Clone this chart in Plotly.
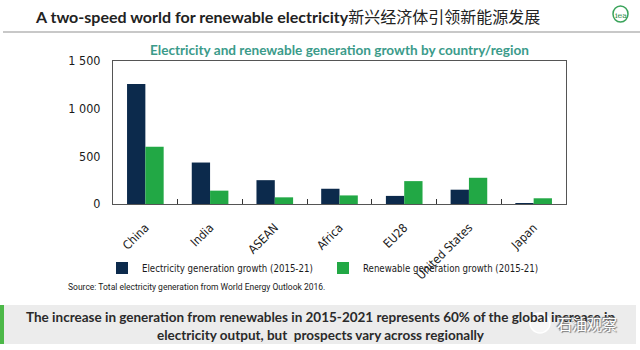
import plotly.graph_objects as go

categories = ["China", "India", "ASEAN", "Africa", "EU28", "United States", "Japan"]
electricity_growth = [1260, 435, 250, 160, 85, 150, 5]
renewable_growth = [600, 140, 70, 90, 240, 275, 60]
y_tickvals = [0, 500, 1000, 1500]
y_ticktext = ["0", "500", "1 000", "1 500"]

NAVY = "#0c2a4c"
GREEN = "#22a845"
COND = "DejaVu Sans Condensed, Roboto, sans-serif"

# plot area in pixels
L, R, T, B = 113, 566, 61, 204
W, H = 640, 350


def px(x):
    return (x - L) / (R - L)


def py(y):
    return (B - y) / (B - T)


fig = go.Figure()
fig.add_trace(go.Bar(x=categories, y=electricity_growth, name="Electricity generation growth (2015-21)",
                     marker=dict(color=NAVY, line=dict(width=0))))
fig.add_trace(go.Bar(x=categories, y=renewable_growth, name="Renewable generation growth (2015-21)",
                     marker=dict(color=GREEN, line=dict(width=0))))

fig.update_layout(
    width=W, height=H,
    margin=dict(l=L, r=W - R, t=T, b=H - B, pad=0),
    paper_bgcolor="white", plot_bgcolor="white",
    barmode="group", bargap=0.434, bargroupgap=0,
    font=dict(family=COND, color="#1a1a1a", size=12),
    showlegend=True,
    legend=dict(orientation="h", x=px(102), y=py(268), xanchor="left", yanchor="middle",
                xref="paper", yref="paper",
                font=dict(family=COND, size=9.6, color="#1a1a1a"),
                entrywidth=176, itemwidth=30, bgcolor="rgba(0,0,0,0)",
                tracegroupgap=0),
)
fig.update_xaxes(
    showline=True, linecolor="#555555", linewidth=1, mirror=True,
    ticks="inside", tickson="boundaries", ticklen=5, tickcolor="#333333",
    tickangle=-45, tickfont=dict(family=COND, size=12, color="#1a1a1a"),
    showgrid=False, ticklabelstandoff=11,
)
fig.update_yaxes(
    range=[0, 1500], tickvals=y_tickvals, ticktext=y_ticktext,
    showline=True, linecolor="#555555", linewidth=1, mirror=True,
    ticks="", showgrid=False, zeroline=False,
    tickfont=dict(family=COND, size=12.5, color="#1a1a1a"),
    ticklabelstandoff=9,
)

# title
fig.add_annotation(
    xref="paper", yref="paper", x=px(33), y=py(16), xanchor="left", yanchor="middle",
    text="<b>A two-speed world for renewable electricity</b>"
         "<span style='font-family:Noto Sans CJK SC;font-size:16px'>新兴经济体引领新能源发展</span>",
    showarrow=False, font=dict(family="Lato, Noto Sans CJK SC, sans-serif", size=16, color="#222222"),
)
# header separator line
fig.add_shape(type="line", xref="paper", yref="paper", x0=px(3), x1=px(640), y0=py(32), y1=py(32),
              line=dict(color="#c8c8c8", width=2))
# iea logo
fig.add_shape(type="circle", xref="paper", yref="paper", x0=px(613), x1=px(628), y0=py(22), y1=py(6),
              line=dict(color="#3aa35a", width=1.5), fillcolor="white")
fig.add_annotation(xref="paper", yref="paper", x=px(621), y=py(15), text="iea", showarrow=False,
                   font=dict(family="DejaVu Serif, serif", size=8, color="#2f8f4a"),
                   xanchor="center", yanchor="middle")

# chart subtitle
fig.add_annotation(
    xref="paper", yref="paper", x=px(339), y=py(50), xanchor="center", yanchor="middle",
    text="<b>Electricity and renewable generation growth by country/region</b>", showarrow=False,
    font=dict(family="Lato, sans-serif", size=13.6, color="#3b9b8a"),
)

# source
fig.add_annotation(
    xref="paper", yref="paper", x=px(66), y=py(287), xanchor="left", yanchor="middle",
    text="Source: Total electricity generation from World Energy Outlook 2016.", showarrow=False,
    font=dict(family="Roboto, sans-serif", size=8.5, color="#1a1a1a"),
)

# bottom box
fig.add_shape(type="rect", xref="paper", yref="paper", x0=px(0), x1=px(636), y0=py(344), y1=py(305),
              fillcolor="#ececec", line=dict(width=0), layer="below")
fig.add_shape(type="rect", xref="paper", yref="paper", x0=px(0), x1=px(4), y0=py(344), y1=py(305),
              fillcolor="#4cb848", line=dict(width=0))
fig.add_annotation(
    xref="paper", yref="paper", x=px(320), y=py(326), xanchor="center", yanchor="middle",
    text="<b>The increase in generation from renewables in 2015-2021 represents 60% of the global increase in</b><br>"
         "<b>electricity output, but  prospects vary across regionally</b>",
    showarrow=False, align="center",
    font=dict(family="Lato, sans-serif", size=13.5, color="#2a2a2a"),
)
# watermark
fig.add_shape(type="circle", xref="paper", yref="paper", x0=px(530), x1=px(550), y0=py(333), y1=py(313),
              line=dict(color="white", width=1.5), fillcolor="rgba(255,255,255,0.6)")
fig.add_annotation(
    xref="paper", yref="paper", x=px(587), y=py(323), xanchor="center", yanchor="middle",
    text="石油观察", showarrow=False,
    font=dict(family="Noto Sans CJK SC, sans-serif", size=15, color="white",
              shadow="1px 1px 1px #777, -1px -1px 1px #777"),
)

fig.write_html("out.html")
